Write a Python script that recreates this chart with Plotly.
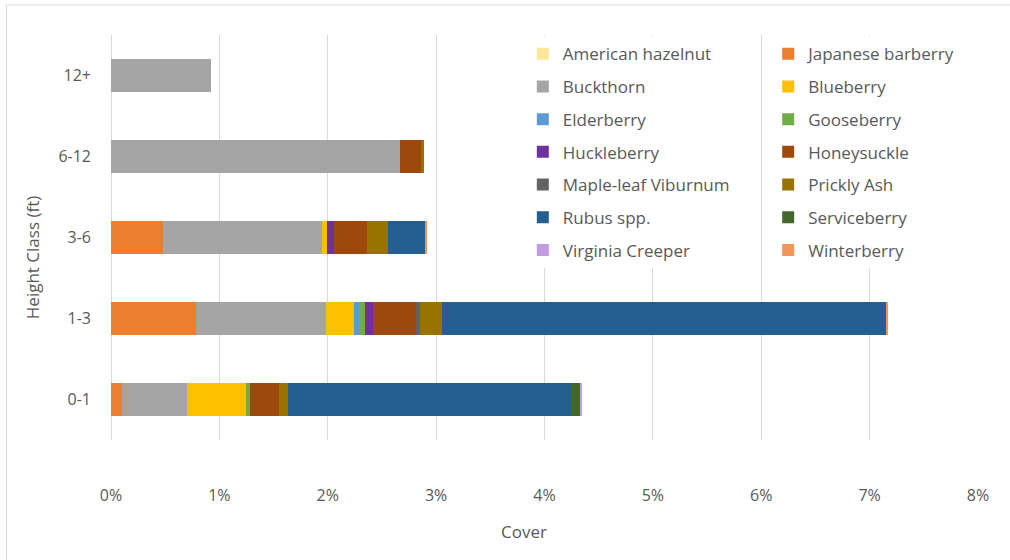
import plotly.graph_objects as go

# Height classes, bottom to top
height_classes = ["0-1", "1-3", "3-6", "6-12", "12+"]

# Percent cover per species for each height class (same order as height_classes)
american_hazelnut = [0.0, 0.0, 0.0, 0.0, 0.0]
japanese_barberry = [0.10, 0.78, 0.48, 0.0, 0.0]
buckthorn = [0.60, 1.20, 1.47, 2.67, 0.92]
blueberry = [0.55, 0.26, 0.04, 0.0, 0.0]
elderberry = [0.0, 0.05, 0.0, 0.0, 0.0]
gooseberry = [0.03, 0.05, 0.0, 0.0, 0.0]
huckleberry = [0.0, 0.08, 0.07, 0.0, 0.0]
honeysuckle = [0.27, 0.39, 0.30, 0.19, 0.0]
maple_leaf_viburnum = [0.0, 0.04, 0.0, 0.0, 0.0]
prickly_ash = [0.08, 0.20, 0.20, 0.025, 0.0]
rubus = [2.61, 4.11, 0.34, 0.0, 0.0]
serviceberry = [0.09, 0.0, 0.0, 0.0, 0.0]
virginia_creeper = [0.01, 0.0, 0.0, 0.0, 0.0]
winterberry = [0.0, 0.012, 0.02, 0.0, 0.0]

x_ticks = [0, 1, 2, 3, 4, 5, 6, 7, 8]
x_tick_labels = ["0%", "1%", "2%", "3%", "4%", "5%", "6%", "7%", "8%"]

series = [
    ("American hazelnut", american_hazelnut, "#FFE699"),
    ("Japanese barberry", japanese_barberry, "#ED7D31"),
    ("Buckthorn", buckthorn, "#A5A5A5"),
    ("Blueberry", blueberry, "#FFC000"),
    ("Elderberry", elderberry, "#5B9BD5"),
    ("Gooseberry", gooseberry, "#70AD47"),
    ("Huckleberry", huckleberry, "#7030A0"),
    ("Honeysuckle", honeysuckle, "#9E480E"),
    ("Maple-leaf Viburnum", maple_leaf_viburnum, "#636363"),
    ("Prickly Ash", prickly_ash, "#997300"),
    ("Rubus spp.", rubus, "#255E91"),
    ("Serviceberry", serviceberry, "#43682B"),
    ("Virginia Creeper", virginia_creeper, "#C39BE0"),
    ("Winterberry", winterberry, "#F1975A"),
]

FONT = "Open Sans"
TEXT = "#595959"
GRID = "#D9D9D9"

fig = go.Figure()
for i, (name, vals, color) in enumerate(series):
    fig.add_trace(go.Bar(
        y=height_classes, x=vals, name=name, orientation="h",
        marker=dict(color=color, line=dict(width=0)),
        legend="legend" if i % 2 == 0 else "legend2",
        legendgroup=name,
    ))

# Two legend columns placed inside the plot area (top right)
legend_common = dict(
    xref="paper", yref="paper", xanchor="left", yanchor="top",
    bgcolor="white", font=dict(family=FONT, size=17, color=TEXT),
    tracegroupgap=7.6, itemwidth=30,
)

fig.update_layout(
    width=1010, height=560,
    margin=dict(l=111, r=32, t=35, b=120, autoexpand=False),
    paper_bgcolor="white", plot_bgcolor="white",
    barmode="stack", bargap=0.6,
    font=dict(family=FONT, size=16, color=TEXT),
    legend=dict(x=0.475, y=0.997, **legend_common),
    legend2=dict(x=0.758, y=0.997, **legend_common),
    xaxis=dict(
        range=[0, 8], tickvals=x_ticks, ticktext=x_tick_labels,
        showgrid=True, gridcolor=GRID, gridwidth=1,
        zeroline=True, zerolinecolor=GRID, zerolinewidth=1,
        showline=False, ticks="", ticklabelstandoff=44,
        tickfont=dict(family=FONT, size=16, color=TEXT),
    ),
    yaxis=dict(
        categoryorder="array", categoryarray=height_classes,
        showgrid=False, zeroline=False, showline=False, ticks="",
        ticklabelstandoff=19,
        tickfont=dict(family=FONT, size=16, color=TEXT),
    ),
    annotations=[
        dict(text="Height Class (ft)", xref="paper", yref="paper",
             x=-0.0911, y=0.449, xanchor="center", yanchor="middle",
             textangle=-90, showarrow=False,
             font=dict(family=FONT, size=17, color=TEXT)),
        dict(text="Cover", xref="paper", yref="paper",
             x=0.476, y=-0.227, xanchor="center", yanchor="middle",
             showarrow=False,
             font=dict(family=FONT, size=17, color=TEXT)),
    ],
    shapes=[
        dict(type="rect", xref="paper", yref="paper",
             x0=-0.1205, x1=1.2, y0=-0.5, y1=1.074,
             line=dict(color=GRID, width=1), fillcolor="rgba(0,0,0,0)"),
    ],
)

fig.write_html("out.html")
